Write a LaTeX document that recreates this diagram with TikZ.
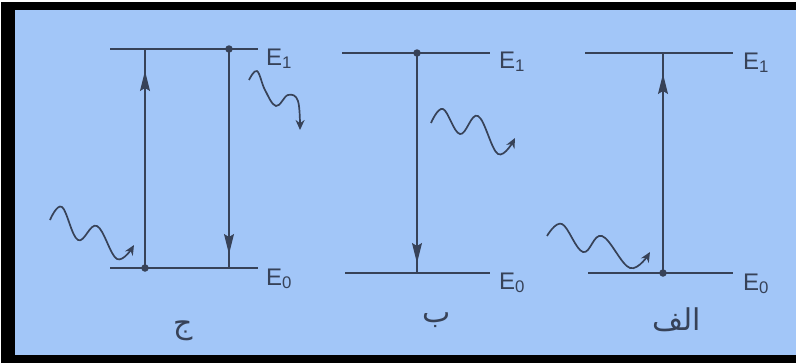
\documentclass[tikz,border=0pt]{standalone}
\usepackage{fontspec}
\setmainfont{Liberation Sans}
\newfontfamily\arabicfont[Script=Arabic]{DejaVu Sans}
\TeXXeTstate=1
\usetikzlibrary{arrows.meta}
\definecolor{bgblue}{HTML}{A2C6F8}
\definecolor{ink}{RGB}{55,66,88}
\begin{document}
\begin{tikzpicture}[x=1pt,y=-1pt,
  level/.style={draw=ink,line width=2.2pt},
  trans/.style={draw=ink,line width=1.2pt},
  tiparrow/.style={draw=ink,line width=1.2pt,-{Stealth[length=20pt,width=10pt,inset=3pt]}},
  photon/.style={draw=ink,line width=1.7pt,-{Stealth[length=10pt,width=9pt]}},
  dotc/.style={circle,fill=ink,inner sep=0pt,minimum size=7.5pt},
  elabel/.style={anchor=base west,text=ink,font=\fontsize{24}{26}\selectfont,inner sep=0pt},
  arlabel/.style={text=ink,font=\arabicfont\fontsize{30}{34}\selectfont,inner sep=0pt}]
\useasboundingbox (0,0) rectangle (796,364);
\fill[white] (0,0) rectangle (796,364);
\fill[black] (1,2) rectangle (796,363);
\fill[bgblue] (15,10) rectangle (796,355);

% ---- diagram ج (left)
\coordinate (c1l) at (110,49); \coordinate (c1r) at (258,49);
\coordinate (c0l) at (110,268); \coordinate (c0r) at (258,268);
\coordinate (cupT) at (145,49); \coordinate (cupTip) at (145,71);
\coordinate (cdnB) at (229,268); \coordinate (cdnTip) at (229,254);
\draw[level] (c1l) -- (c1r);
\draw[level] (c0l) -- (c0r);
\node[dotc] (cdotB) at (145,268) {};
\node[dotc] (cdotT) at (229,49) {};
\draw[trans] (cdotB.center) -- (cupT);
\draw[tiparrow] (cdotB.center) -- (cupTip);
\draw[trans] (cdotT.center) -- (cdnB);
\draw[tiparrow] (cdotT.center) -- (cdnTip);
\draw[photon] plot[smooth,tension=0.65] coordinates {(50,220) (62,207) (78,240) (97,226) (117,259) (134,245)};
\draw[photon] plot[smooth,tension=0.65] coordinates {(249,80) (257,71) (265,90) (276,106) (288,95) (298,101) (300,130)};
\node[elabel] (cE1) at (266,65) {E\textsubscript{1}};
\node[elabel] (cE0) at (266,285) {E\textsubscript{0}};
\node[arlabel] (cname) at (183,331) {\beginR ج\endR};

% ---- diagram ب (middle)
\coordinate (b1l) at (342,53); \coordinate (b1r) at (490,53);
\coordinate (b0l) at (345,273); \coordinate (b0r) at (490,273);
\coordinate (bdnB) at (417,273); \coordinate (bdnTip) at (417,263);
\draw[level] (b1l) -- (b1r);
\draw[level] (b0l) -- (b0r);
\node[dotc] (bdot) at (417,53) {};
\draw[trans] (bdot.center) -- (bdnB);
\draw[tiparrow] (bdot.center) -- (bdnTip);
\draw[photon] plot[smooth,tension=0.65] coordinates {(431,123) (443,109) (460,134) (478,116) (498,154) (515,138)};
\node[elabel] (bE1) at (499,68) {E\textsubscript{1}};
\node[elabel] (bE0) at (499,289) {E\textsubscript{0}};
\node[arlabel] (bname) at (437,320) {\beginR ب\endR};

% ---- diagram الف (right)
\coordinate (a1l) at (585,53); \coordinate (a1r) at (733,53);
\coordinate (a0l) at (588,273); \coordinate (a0r) at (733,273);
\coordinate (aupT) at (663,53); \coordinate (aupTip) at (663,74);
\draw[level] (a1l) -- (a1r);
\draw[level] (a0l) -- (a0r);
\node[dotc] (adot) at (663,273) {};
\draw[trans] (adot.center) -- (aupT);
\draw[tiparrow] (adot.center) -- (aupTip);
\draw[photon] plot[smooth,tension=0.65] coordinates {(547,236) (562,224) (583,252) (602,236) (630,268) (650,252)};
\node[elabel] (aE1) at (743,69) {E\textsubscript{1}};
\node[elabel] (aE0) at (743,290) {E\textsubscript{0}};
\node[arlabel] (aname) at (677,320) {\beginR الف\endR};
\end{tikzpicture}
\end{document}
